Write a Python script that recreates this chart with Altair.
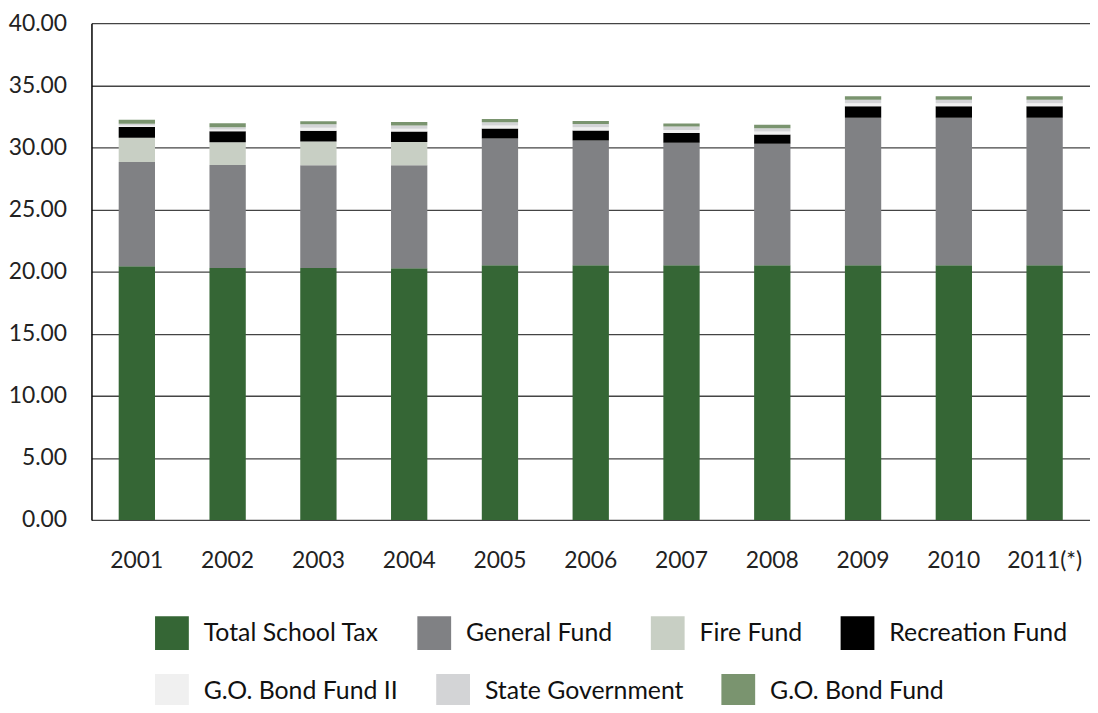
import altair as alt
import pandas as pd

years = ["2001", "2002", "2003", "2004", "2005", "2006", "2007", "2008", "2009", "2010", "2011(*)"]
series = ["Total School Tax", "General Fund", "Fire Fund", "Recreation Fund",
          "G.O. Bond Fund II", "State Government", "G.O. Bond Fund"]
colors = ["#356635", "#808184", "#c8cfc4", "#000000", "#f0f0f0", "#d3d4d6", "#7a946f"]

total_school_tax = [20.42, 20.29, 20.29, 20.27, 20.51, 20.51, 20.51, 20.51, 20.51, 20.51, 20.51]
general_fund     = [8.40, 8.29, 8.26, 8.29, 10.21, 10.05, 9.86, 9.78, 11.87, 11.87, 11.87]
fire_fund        = [1.96, 1.84, 1.93, 1.87, 0.0, 0.0, 0.0, 0.0, 0.0, 0.0, 0.0]
recreation_fund  = [0.85, 0.88, 0.85, 0.85, 0.80, 0.80, 0.78, 0.75, 0.93, 0.93, 0.93]
go_bond_fund_ii  = [0.12, 0.14, 0.25, 0.22, 0.24, 0.25, 0.25, 0.24, 0.25, 0.25, 0.25]
state_government = [0.15, 0.18, 0.28, 0.26, 0.26, 0.28, 0.28, 0.26, 0.28, 0.28, 0.28]
go_bond_fund     = [0.32, 0.32, 0.24, 0.29, 0.27, 0.24, 0.24, 0.27, 0.27, 0.27, 0.27]

values = [total_school_tax, general_fund, fire_fund, recreation_fund,
          go_bond_fund_ii, state_government, go_bond_fund]

rows = []
for si, (name, vals) in enumerate(zip(series, values)):
    for yr, v in zip(years, vals):
        rows.append({"year": yr, "series": name, "value": v, "idx": si})
df = pd.DataFrame(rows)

FONT = "Lato"
ROW1 = series[:4]
ROW2 = series[4:]

base = alt.Chart(df).transform_stack(
    stack="value", as_=["y0", "y1"], groupby=["year"],
    sort=[alt.SortField("idx", order="ascending")],
)

x_enc = alt.X("year:N", sort=years, title=None,
              scale=alt.Scale(paddingInner=0.6, paddingOuter=0.3),
              axis=alt.Axis(labelAngle=0, ticks=False, domain=False, labelPadding=30,
                            labelFontSize=23, labelColor="#222222", labelFont=FONT))
y_enc = alt.Y("y0:Q", title=None,
              scale=alt.Scale(domain=[0, 40], nice=False),
              axis=alt.Axis(values=[0, 5, 10, 15, 20, 25, 30, 35, 40], format=".2f",
                            ticks=False, domain=True, domainColor="#000000", domainWidth=1.5,
                            grid=True, gridColor="#444444", gridWidth=1.3,
                            labelPadding=25, labelFontSize=23, labelColor="#222222",
                            labelFont=FONT))


def legend(y):
    return alt.Legend(title=None, orient="none", legendX=64, legendY=y,
                      direction="horizontal", symbolType="square", symbolSize=1156,
                      symbolStrokeWidth=0, labelOffset=15, columnPadding=38,
                      labelFontSize=25, labelFont=FONT, labelColor="#111111",
                      labelLimit=400)


layer1 = base.transform_filter(alt.FieldOneOfPredicate(field="series", oneOf=ROW1)).mark_bar().encode(
    x=x_enc, y=y_enc, y2="y1:Q",
    color=alt.Color("series:N", scale=alt.Scale(domain=ROW1, range=colors[:4]),
                    legend=legend(597)),
)
layer2 = base.transform_filter(alt.FieldOneOfPredicate(field="series", oneOf=ROW2)).mark_bar().encode(
    x=x_enc, y=y_enc, y2="y1:Q",
    color=alt.Color("series:N", scale=alt.Scale(domain=ROW2, range=colors[4:]),
                    legend=legend(655)),
)

chart = alt.layer(layer1, layer2).resolve_scale(color="independent").properties(
    width=1005, height=500,
    autosize=alt.AutoSizeParams(type="none"),
    padding={"left": 84, "top": 13, "right": 0, "bottom": 184},
).configure_view(stroke=None)

chart.save("out.html", embed_options={"renderer": "svg", "actions": False})
